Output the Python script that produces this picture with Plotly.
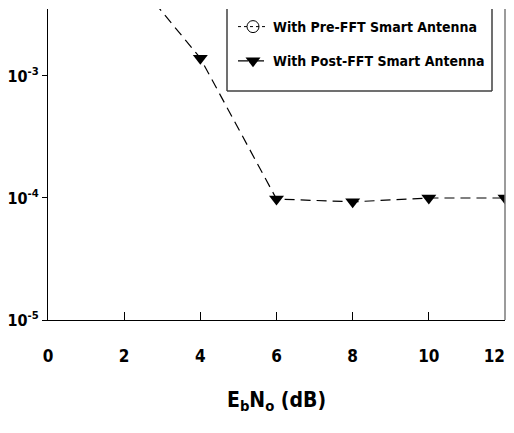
import plotly.graph_objects as go

# Data
ebno_post = [2, 4, 6, 8, 10, 12]
ber_post = [8.0e-3, 1.4e-3, 9.8e-5, 9.3e-5, 1.0e-4, 1.0e-4]
ebno_pre = [None]   # Pre-FFT curve lies outside the visible window
ber_pre = [None]

x_ticks = [0, 2, 4, 6, 8, 10, 12]
x_ticktext = ["0", "2", "4", "6", "8", "10", "12\u00a0\u00a0\u00a0\u00a0"]
y_tickvals = [1e-5, 1e-4, 1e-3]
y_ticktext = ["10<sup>-5</sup>", "10<sup>-4</sup>", "10<sup>-3</sup>"]

FONT = "DejaVu Sans Condensed, Liberation Sans Narrow, Liberation Sans"

OFF = 8  # page body margin offset
W, H = 514 - OFF, 407
L, R, T = 48 - OFF, 9, 9 - OFF
PW, PH = 457, 311
B = H - T - PH


def px_x(p):  # page pixel -> paper fraction
    return (p - OFF - L) / PW


def px_y(p):
    return 1 - (p - OFF - T) / PH


fig = go.Figure()
fig.add_trace(go.Scatter(
    x=ebno_pre, y=ber_pre, mode="lines+markers",
    name="With Pre-FFT Smart Antenna", legendgroup="pre",
    line=dict(color="black", width=1, dash="dot"),
    marker=dict(symbol="circle-open", size=12, color="black", line=dict(width=1)),
))
fig.add_trace(go.Scatter(
    x=ebno_post, y=ber_post, mode="lines+markers",
    name="With Post-FFT Smart Antenna", legendgroup="post",
    line=dict(color="black", width=1.2, dash="10px,6px"),
    marker=dict(symbol="triangle-down", size=13, color="black"),
))

# right frame line (grey in the reference)
fig.add_shape(type="line", xref="paper", yref="paper", x0=1, x1=1, y0=0, y1=1,
              line=dict(color="#7a7a7a", width=1.5))

# legend frame (top edge clipped in the reference)
for (x0, y0, x1, y1) in [(227, 9, 227, 91), (492, 9, 492, 91), (227, 91, 492, 91)]:
    fig.add_shape(type="line", xref="paper", yref="paper",
                  x0=px_x(x0), y0=px_y(y0), x1=px_x(x1), y1=px_y(y1),
                  line=dict(color="#404040", width=1.5))

fig.update_layout(
    width=W, height=H,
    margin=dict(l=L, r=R, t=T, b=B),
    paper_bgcolor="white", plot_bgcolor="white",
    font=dict(family=FONT, color="black", weight="bold"),
    showlegend=True,
    legend=dict(
        x=px_x(233), y=px_y(11), xanchor="left", yanchor="top",
        bgcolor="rgba(0,0,0,0)", borderwidth=0,
        font=dict(family=FONT, size=14, color="black", weight="bold"),
        traceorder="grouped", tracegroupgap=13,
    ),
    xaxis=dict(
        range=[0, 12], tickvals=x_ticks, ticktext=x_ticktext,
        ticks="inside", ticklen=8,
        tickwidth=1.2, tickcolor="black", automargin=False,
        ticklabeloverflow="allow",
        showline=True, linecolor="black", linewidth=1.2, mirror=False,
        showgrid=False, zeroline=False,
        tickfont=dict(family=FONT, size=17, weight="bold"),
        ticklabelstandoff=20,
        title=dict(text="E<sub>b</sub>N<sub>o</sub> (dB)",
                   font=dict(family=FONT, size=21, weight="bold"), standoff=27),
    ),
    yaxis=dict(
        type="log", range=[-5, -2.451], tickvals=y_tickvals, ticktext=y_ticktext,
        ticks="outside", ticklen=5, tickwidth=1.2, tickcolor="black",
        showline=True, linecolor="black", linewidth=1.2, mirror=False,
        showgrid=False, zeroline=False, automargin=False,
        tickfont=dict(family=FONT, size=16, weight="bold"),
    ),
)

fig.write_html("out.html")
